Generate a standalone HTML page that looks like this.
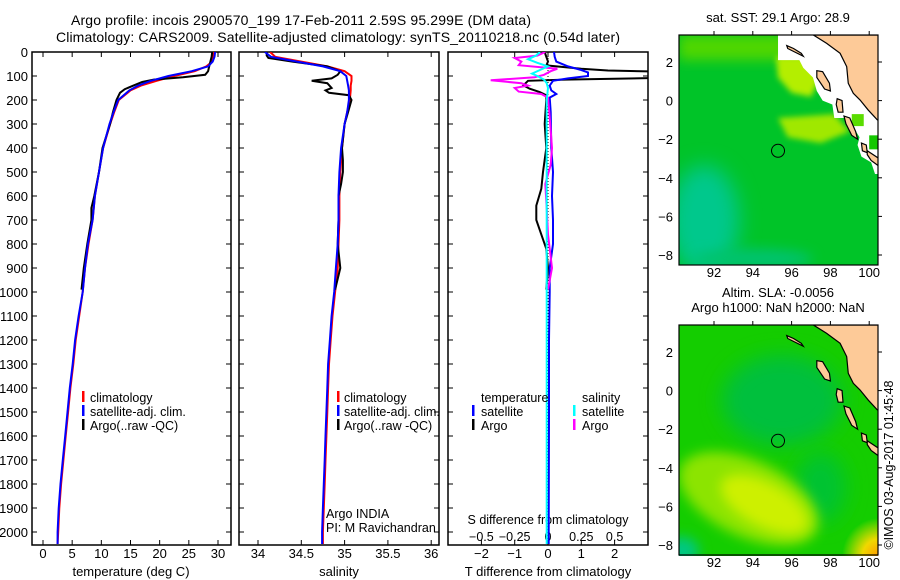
<!DOCTYPE html>
<html><head><meta charset="utf-8"><title>Argo profile</title>
<style>
html,body{margin:0;padding:0;background:#fff;}
svg{display:block;font-family:"Liberation Sans",sans-serif;}
text{fill:#000;}
</style></head>
<body>
<svg id="fig" width="900" height="580" viewBox="0 0 900 580" xmlns="http://www.w3.org/2000/svg">
<defs>
<clipPath id="c1"><rect x="32" y="52" width="199" height="493"/></clipPath>
<clipPath id="c2"><rect x="239" y="52" width="200" height="493"/></clipPath>
<clipPath id="c3"><rect x="448" y="52" width="200" height="493"/></clipPath>
<clipPath id="m1"><rect x="679" y="35" width="199" height="230"/></clipPath>
<clipPath id="m2"><rect x="679" y="325" width="199" height="231"/></clipPath>
<filter id="blur3" x="-50%" y="-50%" width="200%" height="200%"><feGaussianBlur stdDeviation="3"/></filter>
<filter id="blur6" x="-50%" y="-50%" width="200%" height="200%"><feGaussianBlur stdDeviation="6"/></filter>
<filter id="blur10" x="-50%" y="-50%" width="200%" height="200%"><feGaussianBlur stdDeviation="10"/></filter>
<radialGradient id="orangeG" cx="1" cy="1" r="1"><stop offset="0" stop-color="#ff9a00"/><stop offset="0.45" stop-color="#f0d800"/><stop offset="1" stop-color="#f0e000" stop-opacity="0"/></radialGradient>
</defs>
<g id="title">
<text x="71" y="25" font-size="14" textLength="460">Argo profile: incois 2900570_199 17-Feb-2011 2.59S 95.299E (DM data)</text>
<text x="56" y="42" font-size="14" textLength="564">Climatology: CARS2009. Satellite-adjusted climatology: synTS_20110218.nc (0.54d later)</text>
</g>
<g id="charts"></g>
<g id="maps"></g>
</svg>
<script>
// ---------- data ----------
const depthT = [0,20,40,60,80,100,120,140,160,200,250,300,400,500,600,700,800,900,1000,1100,1200,1300,1400,1500,1600,1700,1800,1900,2000,2050];
const tempClim = [29.3,29.2,29.0,28.0,26.0,22.5,19.5,16.8,15.0,13.0,12.2,11.5,10.3,9.6,8.9,8.5,7.8,7.2,6.8,6.2,5.6,5.2,4.7,4.3,3.9,3.5,3.1,2.8,2.6,2.5];
const tempSat = [29.5,29.4,29.1,28.3,25.5,21.5,18.5,16.3,14.8,12.9,12.1,11.4,10.3,9.6,8.9,8.5,7.7,7.2,6.8,6.1,5.5,5.1,4.6,4.2,3.8,3.4,3.0,2.7,2.5,2.5];
const depthTArgo = [0,20,40,60,80,95,105,115,125,140,155,170,200,250,300,400,500,600,650,700,800,900,990];
const tempArgo = [29.0,28.9,28.7,28.5,28.3,27.8,24.0,19.0,17.0,15.5,14.0,13.2,12.6,12.0,11.5,10.2,9.6,8.8,8.3,8.3,7.6,7.0,6.6];
const salClim = [34.14,34.2,34.5,34.8,35.0,35.08,35.08,35.07,35.07,35.06,35.03,35.0,34.97,34.95,34.94,34.94,34.93,34.92,34.89,34.86,34.84,34.82,34.81,34.8,34.79,34.78,34.77,34.76,34.75,34.75];
const salSat = [34.08,34.15,34.45,34.75,34.95,35.02,35.03,35.04,35.05,35.05,35.03,35.0,34.96,34.94,34.93,34.93,34.92,34.9,34.88,34.85,34.83,34.81,34.8,34.79,34.78,34.77,34.76,34.75,34.74,34.74];
const depthSArgo = [0,15,25,40,60,80,95,110,120,130,150,160,170,180,200,250,300,400,450,500,550,600,700,800,900,990];
const salArgo = [34.1,34.1,34.12,34.4,34.8,34.95,34.92,34.85,34.62,34.8,34.85,34.78,34.82,35.05,35.08,35.04,35.0,34.97,34.98,34.98,34.96,34.93,34.93,34.92,34.95,34.89];
const depthDTSat = [0,20,40,60,75,85,100,110,120,140,160,175,190,250,400,500,600,700,800,900,1000,1200,1500,2000,2050];
const dTSat = [0.18,0.2,0.25,0.6,1.0,1.2,1.2,0.6,0.15,0.05,0.1,0.25,0.05,0.08,0.1,0.15,0.12,0.15,0.15,0.05,0.05,0.03,0.03,0.02,0.02];
const depthDTArgo = [0,20,40,56,70,77,82,95,108,115,120,139,153,167,180,200,300,400,500,570,640,700,760,820,900,990];
const dTArgo = [-0.1,-0.05,0.0,-0.05,1.0,1.8,3.5,3.5,3.5,0.5,-0.6,-0.74,-0.55,-0.25,-0.05,-0.05,-0.1,-0.05,-0.15,-0.2,-0.35,-0.35,-0.2,-0.05,0,-0.05];
const depthDSArgo = [0,15,25,40,55,70,80,95,105,118,130,140,150,165,175,190,250,400,470,550,650,760,900,990];
const dSArgo = [-0.02,-0.08,-0.25,-0.2,-0.22,0.07,0.02,-0.03,-0.1,-0.43,-0.2,-0.15,-0.25,-0.22,-0.05,0,0.01,0.03,0.02,-0.02,-0.01,0.0,0.03,0.0];
const depthDSSat = [0,15,30,45,60,75,90,100,115,130,150,200,400,1000,1500,2000,2050];
const dSSat = [-0.06,-0.09,-0.15,-0.08,0.0,-0.06,-0.12,-0.08,-0.03,-0.01,0.0,-0.01,-0.01,-0.01,-0.01,-0.01,-0.01];
const depthTicks = [0,100,200,300,400,500,600,700,800,900,1000,1100,1200,1300,1400,1500,1600,1700,1800,1900,2000];
const tempTicks = [0,5,10,15,20,25,30];
const salTicks = [34,34.5,35,35.5,36];
const salTickLabels = ["34","34.5","35","35.5","36"];
const dTTicks = [-2,-1,0,1,2];
const dSTicks = [-0.5,-0.25,0,0.25,0.5];
const dSTickLabels = ["\u22120.5","\u22120.25","0","0.25","0.5"];
const dTTickLabels = ["\u22122","\u22121","0","1","2"];

const NS = "http://www.w3.org/2000/svg";
function mk(tag, attrs, parent){const e=document.createElementNS(NS,tag);for(const k in attrs)e.setAttribute(k,attrs[k]);parent.appendChild(e);return e;}
const Y = d => 52 + d*0.24;
const xT = v => 43 + v*5.833;
const xS = v => 258 + (v-34)*86.6;
const xDT = v => 548 + v*33.3;
const xDS = v => 548 + v*133.2;
const charts = document.getElementById('charts');

function panel(x0,x1,name){
  const g = mk('g',{},charts);
  
  
  const r = mk('rect',{x:x0,y:52,width:x1-x0,height:493,fill:'none',stroke:'#000','stroke-width':1.5},g);
  
  
  depthTicks.forEach(d=>{
    const t1 = mk('line',{x1:x0,x2:x0+5,y1:Y(d),y2:Y(d),stroke:'#000'},g);
    
    
    const t2 = mk('line',{x1:x1-5,x2:x1,y1:Y(d),y2:Y(d),stroke:'#000'},g);
    
    
  });
  return g;
}
function xticks(g,vals,labels,fx,ly,withTop,name){
  vals.forEach((v,i)=>{
    const b = mk('line',{x1:fx(v),x2:fx(v),y1:540,y2:545,stroke:'#000'},g);
    
    
    if(withTop){
      const t = mk('line',{x1:fx(v),x2:fx(v),y1:52,y2:57,stroke:'#000'},g);
      
      
    }
    const tx = mk('text',{x:fx(v),y:ly,'font-size':13,'text-anchor':'middle'},g);
    tx.textContent = labels[i];
    
    
  });
}
function line(g,ds,vs,fx,color,clip,name){
  const pts = ds.map((d,i)=>fx(vs[i]).toFixed(1)+','+Y(d).toFixed(1)).join(' ');
  const p = mk('polyline',{points:pts,fill:'none',stroke:color,'stroke-width':2,'clip-path':'url(#'+clip+')'},g);
  
  
}
function txt(g,x,y,s,str,name,anchor){
  const t = mk('text',{x:x,y:y,'font-size':s,'text-anchor':anchor||'start'},g);
  t.textContent = str;
  
  
  return t;
}
function mark(g,x,y,color,name){
  const r = mk('rect',{x:x,y:y-11,width:2.5,height:11,fill:color},g);
  
  
}

// Panel 1: temperature
const p1 = panel(32,231,'temperature-panel');
depthTicks.forEach(d=>{ txt(p1,28,Y(d)+5,13,String(d),'depth-tick-label','end'); });
xticks(p1,tempTicks,tempTicks.map(String),xT,558,true,'temperature-axis');
txt(p1,131,576,13,'temperature (deg C)','x-axis-title-temperature','middle');
line(p1,depthT,tempClim,xT,'#f00','c1','temp-climatology-line');
line(p1,depthTArgo,tempArgo,xT,'#000','c1','temp-argo-line');
line(p1,depthT,tempSat,xT,'#00f','c1','temp-satellite-line');
mark(p1,82,402,'#f00','legend-mark-climatology'); txt(p1,90,402,12.5,'climatology','legend-entry-climatology');
mark(p1,82,416,'#00f','legend-mark-satellite'); txt(p1,90,416,12.5,'satellite-adj. clim.','legend-entry-satellite');
mark(p1,82,430,'#000','legend-mark-argo'); txt(p1,90,430,12.5,'Argo(..raw -QC)','legend-entry-argo');

// Panel 2: salinity
const p2 = panel(239,439,'salinity-panel');
xticks(p2,salTicks,salTickLabels,xS,558,true,'salinity-axis');
txt(p2,339,576,13,'salinity','x-axis-title-salinity','middle');
line(p2,depthT,salClim,xS,'#f00','c2','sal-climatology-line');
line(p2,depthSArgo,salArgo,xS,'#000','c2','sal-argo-line');
line(p2,depthT,salSat,xS,'#00f','c2','sal-satellite-line');
mark(p2,337,402,'#f00','legend-mark-climatology'); txt(p2,344,402,12.5,'climatology','legend-entry-climatology');
mark(p2,337,416,'#00f','legend-mark-satellite'); txt(p2,344,416,12.5,'satellite-adj. clim.','legend-entry-satellite');
mark(p2,337,430,'#000','legend-mark-argo'); txt(p2,344,430,12.5,'Argo(..raw -QC)','legend-entry-argo');
txt(p2,326,518,12.5,'Argo INDIA','data-source-label');
txt(p2,326,532,12.5,'PI: M Ravichandran','pi-label');

// Panel 3: differences
const p3 = panel(448,648,'difference-panel');
xticks(p3,dTTicks,dTTickLabels,xDT,558,true,'t-difference-axis');
dSTicks.forEach((v,i)=>{ txt(p3,xDS(v),541,12.5,dSTickLabels[i],'s-difference-tick-label','middle'); });
txt(p3,548,524,12.5,'S difference from climatology','s-axis-title','middle');
txt(p3,548,576,13,'T difference from climatology','t-axis-title','middle');
const zl = mk('line',{x1:548,x2:548,y1:52,y2:545,stroke:'#000','stroke-dasharray':'1,2'},p3);


line(p3,depthDTArgo,dTArgo,xDT,'#000','c3','t-diff-argo-line');
line(p3,depthDTSat,dTSat,xDT,'#00f','c3','t-diff-satellite-line');
line(p3,depthDSArgo,dSArgo,xDS,'#f0f','c3','s-diff-argo-line');
line(p3,depthDSSat,dSSat,xDS,'#0ff','c3','s-diff-satellite-line');
txt(p3,481,402,12.5,'temperature','legend-title-temperature');
txt(p3,582,402,12.5,'salinity','legend-title-salinity');
mark(p3,472,416,'#00f','legend-mark-t-satellite'); txt(p3,481,416,12.5,'satellite','legend-entry-t-satellite');
mark(p3,472,430,'#000','legend-mark-t-argo'); txt(p3,481,430,12.5,'Argo','legend-entry-t-argo');
mark(p3,573,416,'#0ff','legend-mark-s-satellite'); txt(p3,582,416,12.5,'satellite','legend-entry-s-satellite');
mark(p3,573,430,'#f0f','legend-mark-s-argo'); txt(p3,582,430,12.5,'Argo','legend-entry-s-argo');

// ---------- maps ----------
const coastLon = [97.12,97.8,98.5,98.84,98.92,99.18,99.53,99.95,100.42,100.5,100.5];
const coastLat = [3.4,2.97,2.45,1.76,0.9,0.38,0.03,-0.49,-1.0,-1.0,3.4];
const islands = [
  {name:'island-simeulue', lon:[95.75,96.1,96.5,96.6,96.2,95.8], lat:[2.85,2.7,2.45,2.3,2.5,2.7]},
  {name:'island-nias', lon:[97.3,97.6,97.95,98.0,97.7,97.3], lat:[1.55,1.5,0.9,0.5,0.6,1.2]},
  {name:'island-siberut', lon:[98.35,98.6,98.65,98.4,98.3], lat:[0.1,0.0,-0.6,-0.6,-0.2]},
  {name:'island-pagai', lon:[98.7,99.0,99.3,99.4,99.1,98.8], lat:[-0.8,-0.9,-1.6,-2.0,-1.8,-1.2]},
  {name:'island-small', lon:[99.6,99.85,99.9,99.65], lat:[-2.2,-2.3,-2.7,-2.6]},
  {name:'coast-strip', lon:[99.9,100.5,100.5,100.1,99.9], lat:[-2.6,-3.0,-3.4,-3.1,-2.8]}
];
const lonTicks = [92,94,96,98,100];
const latTicks = [2,0,-2,-4,-6,-8];
const argoLon = 95.3, argoLat = -2.6;
const mapsG = document.getElementById('maps');
const LX = l => 714 + (l-92)*19.4;

function drawMap(top, clip, name, painter, title){
  const LY = la => top + 27 - (la-2)*19.3;
  const g = mk('g',{},mapsG);
  
  
  const inner = mk('g',{'clip-path':'url(#'+clip+')'},g);
  painter(inner,LY);
  const land = mk('polygon',{points:coastLon.map((l,i)=>LX(l)+','+LY(coastLat[i])).join(' '),fill:'#fdca98',stroke:'#000','stroke-width':1.2},inner);
  
  
  islands.forEach(is=>{
    const p = mk('polygon',{points:is.lon.map((l,i)=>LX(l)+','+LY(is.lat[i])).join(' '),fill:'#fdca98',stroke:'#000','stroke-width':1.2},inner);
    
    
  });
  const c = mk('circle',{cx:LX(argoLon),cy:LY(argoLat),r:6.5,fill:'none',stroke:'#000','stroke-width':1},g);
  
  
  const fr = mk('rect',{x:679,y:top,width:199,height:230,fill:'none',stroke:'#000','stroke-width':1.2},g);
  
  
  lonTicks.forEach(l=>{
    const a = mk('line',{x1:LX(l),x2:LX(l),y1:top,y2:top-4,stroke:'#000'},g);
    
    
    txt(g,LX(l),top+242,13,String(l),'lon-tick-label','middle');
  });
  latTicks.forEach(la=>{
    const a = mk('line',{x1:878,x2:882,y1:LY(la),y2:LY(la),stroke:'#000'},g);
    
    
    txt(g,673,LY(la)+5,13,la<0?'\u2212'+(-la):String(la),'lat-tick-label','end');
  });
  title.forEach((t,i)=>txt(g,778,top-13-(title.length-1-i)*15,13,t,'map-title','middle'));
  return g;
}
function shape(g,tag,attrs,name){const e=mk(tag,attrs,g);return e;}

drawMap(35,'m1','sst-map',(g,LY)=>{
  shape(g,'rect',{x:679,y:35,width:199,height:230,fill:'rgb(0,196,40)'},'sst-field');
  shape(g,'rect',{x:679,y:35,width:120,height:25,fill:'rgb(80,215,0)',filter:'url(#blur6)'},'sst-warm-north');
  shape(g,'ellipse',{cx:LX(91.5),cy:LY(-6.2),rx:35,ry:55,fill:'rgb(0,200,140)',filter:'url(#blur10)'},'sst-cool-southwest');
  shape(g,'ellipse',{cx:LX(94),cy:LY(-8.2),rx:60,ry:10,fill:'rgb(0,195,110)',filter:'url(#blur6)'},'sst-cool-south');
  shape(g,'polygon',{points:[[95.2,2.3],[97.2,2.3],[97.4,1.0],[97.0,0.2],[96.0,0.4],[95.3,1.2]].map(p=>LX(p[0])+','+LY(p[1])).join(' '),fill:'rgb(180,238,0)',filter:'url(#blur3)'},'sst-warm-coastal-north');
  shape(g,'polygon',{points:[[95.3,-0.9],[98.2,-0.7],[99.0,-1.6],[97.5,-2.2],[95.8,-1.9]].map(p=>LX(p[0])+','+LY(p[1])).join(' '),fill:'rgb(160,232,0)',filter:'url(#blur3)'},'sst-warm-coastal-south');
  shape(g,'polygon',{points:[[95.3,3.5],[95.3,2.1],[96.4,2.1],[96.6,1.7],[97.1,1.2],[97.3,0.5],[97.6,0.0],[98.1,-0.2],[98.2,-0.9],[98.9,-0.9],[99.5,-1.9],[99.4,-2.3],[99.6,-2.9],[100.1,-3.2],[100.3,-3.8],[100.6,-3.8],[100.6,3.5]].map(p=>LX(p[0])+','+LY(p[1])).join(' '),fill:'#fff'},'sst-no-data-region');
  shape(g,'rect',{x:LX(99.1),y:LY(-0.7),width:12,height:12,fill:'rgb(90,220,0)'},'sst-coastal-patch');
  shape(g,'rect',{x:LX(100.0),y:LY(-1.8),width:10,height:14,fill:'rgb(20,200,0)'},'sst-coastal-patch');
},['sat. SST: 29.1  Argo: 28.9']);

drawMap(325,'m2','sla-map',(g,LY)=>{
  shape(g,'rect',{x:679,y:325,width:199,height:231,fill:'rgb(20,205,0)'},'sla-field');
  shape(g,'ellipse',{cx:LX(95.5),cy:LY(-0.5),rx:60,ry:45,fill:'rgb(0,192,60)',filter:'url(#blur10)'},'sla-low-center');
  shape(g,'ellipse',{cx:LX(97.5),cy:LY(-5),rx:25,ry:35,fill:'rgb(0,195,50)',filter:'url(#blur10)'},'sla-low-southeast');
  shape(g,'ellipse',{cx:LX(93.8),cy:LY(-5.6),rx:75,ry:38,fill:'rgb(140,228,0)',filter:'url(#blur6)',transform:'rotate(25 '+LX(93.8)+' '+LY(-5.6)+')'},'sla-high-outer');
  shape(g,'ellipse',{cx:LX(94.6),cy:LY(-5.9),rx:48,ry:22,fill:'rgb(205,240,0)',filter:'url(#blur6)',transform:'rotate(28 '+LX(94.6)+' '+LY(-5.9)+')'},'sla-high-core');
  shape(g,'rect',{x:LX(98.6),y:LY(-6.6),width:LX(100.5)-LX(98.6),height:LY(-8.6)-LY(-6.6),fill:'url(#orangeG)'},'sla-high-corner');
  shape(g,'ellipse',{cx:LX(90.3),cy:LY(-8.3),rx:18,ry:14,fill:'rgb(0,200,130)',filter:'url(#blur6)'},'sla-low-corner');
},['Altim. SLA: -0.0056','Argo h1000: NaN h2000: NaN']);

const cr = txt(mapsG,893,465,12.5,'\u00A9IMOS 03-Aug-2017 01:45:48','copyright-timestamp','middle');
cr.setAttribute('transform','rotate(-90 893 465)');
</script>
</body></html>
